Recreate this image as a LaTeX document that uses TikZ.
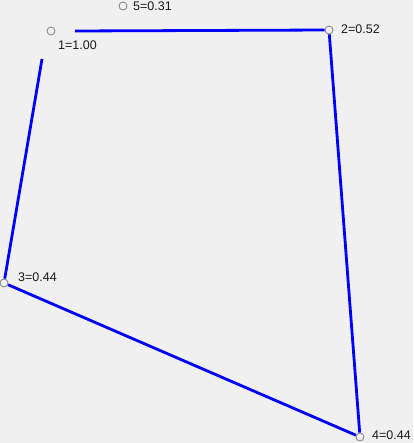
\documentclass[tikz,border=0pt]{standalone}
\usepackage{fontspec}
\setmainfont{Liberation Sans}
\definecolor{bg}{HTML}{F0F0F0}
\definecolor{ring}{HTML}{8A8A8A}
\definecolor{edgeblue}{HTML}{0000FF}
\definecolor{txt}{HTML}{1A1A1A}
\begin{document}
\begin{tikzpicture}[x=1pt,y=-1pt,
  vtx/.style={circle,draw=ring,fill=bg,line width=0.9pt,minimum size=8pt,inner sep=0pt},
  lbl/.style={anchor=west,inner sep=0pt,text=txt,font=\fontsize{12.5}{14}\selectfont},
  edge/.style={draw=edgeblue,line width=2.8pt}]
\fill[bg] (0,0) rectangle (413,443);
\useasboundingbox (0,0) rectangle (413,443);
\coordinate (t1) at (75,31);
\coordinate (l1) at (42,59);
\node[vtx] (n1) at (51,31) {};
\node[vtx] (n2) at (329,30) {};
\node[vtx] (n3) at (4,283) {};
\node[vtx] (n4) at (360,437) {};
\node[vtx] (n5) at (123,6) {};
\draw[edge] (t1) -- (n2);
\draw[edge] (l1) -- (n3);
\draw[edge] (n2) -- (n4);
\draw[edge] (n3) -- (n4);
\node[lbl] (a1) at (58,45) {1=1.00};
\node[lbl] (a2) at (341,29) {2=0.52};
\node[lbl] (a3) at (18,277) {3=0.44};
\node[lbl] (a4) at (372,435) {4=0.44};
\node[lbl] (a5) at (133,6) {5=0.31};
\end{tikzpicture}
\end{document}
